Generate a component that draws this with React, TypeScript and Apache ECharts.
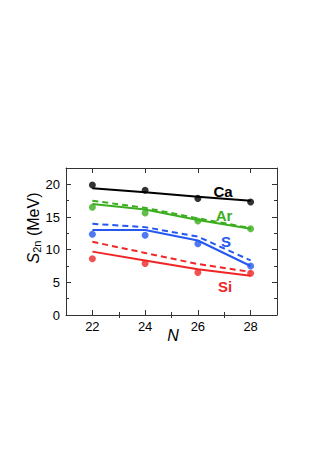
import React, { useEffect, useRef } from "react";
import * as echarts from "echarts";

const N = [22, 24, 26, 28];
const caPts = [19.9, 19.1, 17.85, 17.3];
const caSolid = [19.4, 18.8, 18.1, 17.5];
const arPts = [16.5, 15.6, 14.4, 13.2];
const arSolid = [17.0, 16.15, 14.55, 13.2];
const arDash = [17.5, 16.4, 14.8, 13.3];
const sPts = [12.35, 12.2, 10.9, 7.5];
const sSolid = [13.0, 13.0, 11.4, 7.5];
const sDash = [13.95, 13.45, 12.0, 8.35];
const siPts = [8.6, 7.9, 6.5, 6.4];
const siSolid = [9.7, 8.35, 7.0, 6.0];
const siDash = [11.2, 9.5, 7.8, 6.6];
const xTicks = [22, 24, 26, 28];

const BLACK = "#000000";
const GREEN = "#3aae1e";
const BLUE = "#2458f0";
const RED = "#f02525";

const pair = (ys: number[]) => N.map((x, i) => [x, ys[i]]);

export default function App() {
  const ref = useRef<HTMLDivElement>(null);
  useEffect(() => {
    document.body.style.margin = "0";
    const chart = echarts.init(ref.current!, null, { renderer: "svg" });
    const font = "Liberation Sans, Arial, sans-serif";
    const axisLine = { show: true, onZero: false, lineStyle: { color: "#333", width: 1 } };
    const tick = { show: true, inside: true, length: 5, lineStyle: { color: "#333" } };
    const minor = { show: true, splitNumber: 2, length: 3, lineStyle: { color: "#333" } };
    const line = (data: number[], color: string, dashed = false) => ({
      type: "line",
      data: pair(data),
      showSymbol: false,
      symbol: "none",
      lineStyle: { color, width: 2, type: dashed ? [6, 4] : "solid" },
      z: 2,
    });
    const pts = (data: number[], color: string) => ({
      type: "scatter",
      data: pair(data),
      symbol: "circle",
      symbolSize: 7,
      itemStyle: { color },
      z: 3,
    });
    chart.setOption({
      animation: false,
      grid: { left: 66, right: 50, top: 168, bottom: 148 },
      xAxis: [
        {
          type: "value",
          min: 21,
          max: 29,
          interval: 1,
          position: "bottom",
          axisLine,
          axisTick: { ...tick, customValues: xTicks },
          minorTick: { show: false },
          axisLabel: {
            color: "#000",
            fontSize: 13,
            fontFamily: font,
            margin: 5,
            customValues: xTicks,
          },
          splitLine: { show: false },
        },
        {
          type: "value",
          min: 21,
          max: 29,
          interval: 1,
          position: "top",
          axisLine,
          axisTick: { ...tick, customValues: xTicks },
          minorTick: { show: false },
          axisLabel: { show: false },
          splitLine: { show: false },
        },
        {
          type: "value",
          min: 21,
          max: 29,
          interval: 1,
          position: "bottom",
          axisLine: { show: false },
          axisTick: { show: true, inside: true, length: 3, lineStyle: { color: "#333" }, customValues: [23, 25, 27] },
          axisLabel: { show: false },
          splitLine: { show: false },
        },
        {
          type: "value",
          min: 21,
          max: 29,
          interval: 1,
          position: "top",
          axisLine: { show: false },
          axisTick: { show: true, inside: true, length: 3, lineStyle: { color: "#333" }, customValues: [23, 25, 27] },
          axisLabel: { show: false },
          splitLine: { show: false },
        },
      ],
      yAxis: [
        {
          type: "value",
          min: 0,
          max: 22.5,
          interval: 5,
          position: "left",
          axisLine,
          axisTick: tick,
          minorTick: minor,
          axisLabel: { color: "#000", fontSize: 13, fontFamily: font, margin: 6, showMaxLabel: false },
          splitLine: { show: false },
        },
        {
          type: "value",
          min: 0,
          max: 22.5,
          interval: 5,
          position: "right",
          axisLine,
          axisTick: tick,
          minorTick: minor,
          axisLabel: { show: false },
          splitLine: { show: false },
        },
      ],
      series: [
        line(caSolid, BLACK),
        line(arDash, GREEN, true),
        line(arSolid, GREEN),
        line(sDash, BLUE, true),
        line(sSolid, BLUE),
        line(siDash, RED, true),
        line(siSolid, RED),
        pts(caPts, BLACK),
        pts(arPts, GREEN),
        pts(sPts, BLUE),
        pts(siPts, RED),
      ],
      graphic: [
        { type: "text", x: 223, y: 191, style: { text: "Ca", fill: BLACK, font: `bold 15px ${font}`, align: "center", verticalAlign: "middle" } },
        { type: "text", x: 224, y: 215, style: { text: "Ar", fill: GREEN, font: `bold 15px ${font}`, align: "center", verticalAlign: "middle" } },
        { type: "text", x: 226, y: 241, style: { text: "S", fill: BLUE, font: `bold 15px ${font}`, align: "center", verticalAlign: "middle" } },
        { type: "text", x: 225, y: 286, style: { text: "Si", fill: RED, font: `bold 15px ${font}`, align: "center", verticalAlign: "middle" } },
        { type: "text", x: 173, y: 335, style: { text: "N", fill: "#000", font: `italic 16px ${font}`, align: "center", verticalAlign: "middle" } },
        {
          type: "text",
          x: 33,
          y: 228,
          rotation: Math.PI / 2,
          style: {
            text: "{s|S}{sub|2n}{n| (MeV)}",
            align: "center",
            verticalAlign: "middle",
            rich: {
              s: { fontSize: 16, fontFamily: font, fill: "#000", fontStyle: "italic" },
              sub: { fontSize: 11, fontFamily: font, fill: "#000", padding: [8, 0, 0, 0] },
              n: { fontSize: 16, fontFamily: font, fill: "#000" },
            },
          },
        },
      ],
    });
    return () => chart.dispose();
  }, []);
  return <div ref={ref} style={{ width: 327, height: 463 }} />;
}
